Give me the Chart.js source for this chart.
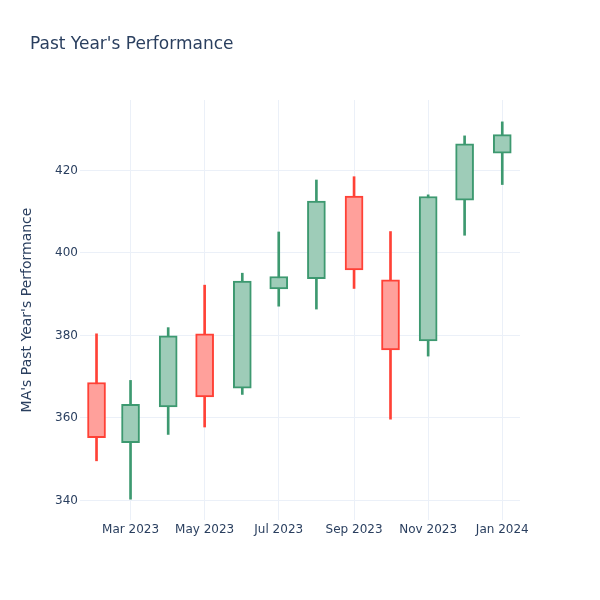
<!DOCTYPE html>
<html lang="en">
<head>
    <meta charset="UTF-8">
    <title>Past Year's Performance</title>
    <style>
        body {
            margin: 0;
            padding: 0;
            background-color: #ffffff;
        }

        .chart-box {
            width: 600px;
            height: 600px;
        }
    </style>
</head>
<body>

<div class="chart-box">
    <canvas id="perfChart" width="600" height="600"></canvas>
</div>

<script src="https://cdn.jsdelivr.net/npm/chart.js"></script>
<script>
    // monthly candles
    const dates = ['2023-02-01', '2023-03-01', '2023-04-01', '2023-05-01', '2023-06-01', '2023-07-01',
                   '2023-08-01', '2023-09-01', '2023-10-01', '2023-11-01', '2023-12-01', '2024-01-01'];
    const opens  = [368.6, 354.0, 362.7, 380.4, 367.2, 391.3, 393.8, 413.8, 393.5, 378.7, 412.8, 424.2];
    const highs  = [380.4, 369.1, 381.9, 392.2, 395.1, 405.1, 417.7, 418.5, 405.2, 414.1, 428.4, 431.8];
    const lows   = [349.6, 340.3, 356.0, 357.8, 365.7, 387.1, 386.4, 391.4, 359.7, 375.0, 404.3, 416.6];
    const closes = [355.2, 363.3, 379.9, 365.1, 393.2, 394.3, 412.6, 395.9, 376.5, 413.7, 426.5, 428.7];

    const xTickDates = ['2023-03-01', '2023-05-01', '2023-07-01', '2023-09-01', '2023-11-01', '2024-01-01'];
    const yTicks = [340, 360, 380, 400, 420];

    const monthNames = ['Jan', 'Feb', 'Mar', 'Apr', 'May', 'Jun', 'Jul', 'Aug', 'Sep', 'Oct', 'Nov', 'Dec'];

    const fontFamily = '"DejaVu Sans", Verdana, sans-serif';
    const textColor = '#2a3f5f';
    const gridColor = '#EBF0F8';
    const upLine = '#3D9970';
    const upFill = '#9ECCB8';
    const downLine = '#FF4136';
    const downFill = '#FFA09B';

    function toDay(s) {
        return Date.parse(s) / 86400000;
    }

    function dayLabel(d) {
        const dt = new Date(Math.round(d) * 86400000);
        return monthNames[dt.getUTCMonth()] + ' ' + dt.getUTCFullYear();
    }

    function isUp(i) {
        return closes[i] >= opens[i];
    }

    const bodyData = dates.map((d, i) => ({ x: toDay(d), y: [opens[i], closes[i]] }));
    const wickData = dates.map((d, i) => ({ x: toDay(d), y: [lows[i], highs[i]] }));

    // plain title text drawn at the top left
    const titlePlugin = {
        id: 'plotTitle',
        afterDraw(chart) {
            const ctx = chart.ctx;
            ctx.save();
            ctx.font = '17px ' + fontFamily;
            ctx.fillStyle = textColor;
            ctx.textAlign = 'left';
            ctx.textBaseline = 'middle';
            ctx.fillText("Past Year's Performance", 30, 45);
            ctx.restore();
        }
    };

    const ctx = document.getElementById('perfChart').getContext('2d');
    const perfChart = new Chart(ctx, {
        type: 'bar',
        data: {
            datasets: [{
                label: 'body',
                data: bodyData,
                grouped: false,
                barThickness: 18,
                borderWidth: 2,
                borderSkipped: false,
                backgroundColor: c => isUp(c.dataIndex) ? upFill : downFill,
                borderColor: c => isUp(c.dataIndex) ? upLine : downLine
            }, {
                label: 'wick',
                data: wickData,
                grouped: false,
                barThickness: 2,
                borderWidth: 0,
                backgroundColor: c => isUp(c.dataIndex) ? upLine : downLine
            }]
        },
        options: {
            responsive: false,
            animation: false,
            layout: {
                padding: { left: 0, right: 80, top: 100, bottom: 0 }
            },
            plugins: {
                legend: { display: false },
                tooltip: { enabled: false }
            },
            scales: {
                x: {
                    type: 'linear',
                    offset: false,
                    min: toDay('2023-02-01') - 13.6,
                    max: toDay('2024-01-01') + 14.6,
                    afterBuildTicks: scale => {
                        scale.ticks = xTickDates.map(d => ({ value: toDay(d) }));
                    },
                    afterFit: scale => { scale.height = 80; },
                    grid: { color: gridColor, drawTicks: false, offset: false },
                    border: { display: false },
                    ticks: {
                        padding: 3,
                        color: textColor,
                        font: { family: fontFamily, size: 12 },
                        maxRotation: 0,
                        autoSkip: false,
                        callback: v => dayLabel(v)
                    }
                },
                y: {
                    min: 335.25,
                    max: 437.1,
                    afterBuildTicks: scale => {
                        scale.ticks = yTicks.map(v => ({ value: v }));
                    },
                    afterFit: scale => { scale.width = 80; },
                    grid: { color: gridColor, drawTicks: false },
                    border: { display: false },
                    ticks: {
                        padding: 2,
                        color: textColor,
                        font: { family: fontFamily, size: 12 }
                    },
                    title: {
                        display: true,
                        text: "MA's Past Year's Performance",
                        color: textColor,
                        padding: { top: 19, bottom: 0 },
                        font: { family: fontFamily, size: 14 }
                    }
                }
            }
        },
        plugins: [titlePlugin]
    });
</script>
</body>
</html>
